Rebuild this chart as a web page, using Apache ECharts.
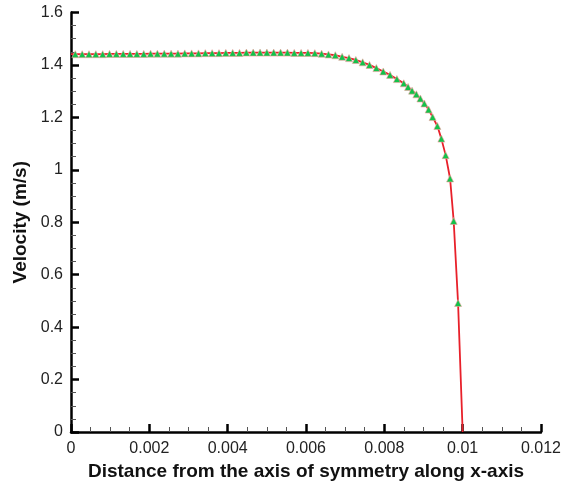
<!DOCTYPE html>
<html>
<head>
<meta charset="utf-8">
<script src="https://cdn.jsdelivr.net/npm/echarts@6/dist/echarts.min.js"></script>
<style>
  html, body { margin: 0; padding: 0; background: #fff; }
  #chart { width: 564px; height: 486px; }
</style>
</head>
<body>
<div id="chart"></div>
<script>
// Radial velocity profile: distance from the symmetry axis (m) vs velocity (m/s)
const distance = [
  0.00011, 0.000285, 0.000459, 0.000634, 0.000809, 0.000984, 0.001158, 0.001333,
  0.001508, 0.001682, 0.001857, 0.002032, 0.002206, 0.002381, 0.002556, 0.002731,
  0.002905, 0.00308, 0.003255, 0.003429, 0.003604, 0.003779, 0.003953, 0.004128,
  0.004303, 0.004478, 0.004652, 0.004827, 0.005002, 0.005176, 0.005351, 0.005526,
  0.0057, 0.005875, 0.00605, 0.006225, 0.006399, 0.006574, 0.006749, 0.006923,
  0.007098, 0.007273, 0.007447, 0.007622, 0.007797, 0.007972, 0.008146, 0.008321,
  0.008496, 0.008606, 0.008708, 0.008818, 0.00892, 0.009022, 0.009132, 0.009234,
  0.009355, 0.009456, 0.009566, 0.009679, 0.009771, 0.009883, 0.01
];
const velocity = [
  1.441, 1.441, 1.441, 1.441, 1.441, 1.442, 1.442, 1.442,
  1.442, 1.442, 1.442, 1.443, 1.443, 1.443, 1.443, 1.443,
  1.444, 1.444, 1.444, 1.445, 1.445, 1.445, 1.446, 1.446,
  1.446, 1.447, 1.447, 1.447, 1.447, 1.447, 1.447, 1.447,
  1.446, 1.446, 1.446, 1.445, 1.443, 1.440, 1.437, 1.431,
  1.426, 1.419, 1.410, 1.400, 1.388, 1.375, 1.362, 1.346,
  1.330, 1.316, 1.302, 1.288, 1.272, 1.253, 1.230, 1.201,
  1.167, 1.119, 1.056, 0.967, 0.805, 0.492, 0
];
// Profile starts on the axis of symmetry with the centre-line velocity
const axisStart = [0, 1.441];

const xTicks = ['0', '0.002', '0.004', '0.006', '0.008', '0.01', '0.012'];
const yTicks = ['0', '0.2', '0.4', '0.6', '0.8', '1', '1.2', '1.4', '1.6'];

const points = [{ value: axisStart, symbol: 'none' }];
distance.forEach((d, i) => {
  const item = { value: [d, velocity[i]] };
  if (i === distance.length - 1) item.symbol = 'none';
  points.push(item);
});

const FONT = '"Liberation Sans", Arial, sans-serif';

const axisCommon = {
  axisLine: { show: true, lineStyle: { color: '#000', width: 2.5 } },
  axisTick: { show: true, inside: true, length: 8, lineStyle: { color: '#000', width: 2.5 } },
  minorTick: { show: true, splitNumber: 4, length: 5, lineStyle: { color: '#555', width: 1 } },
  splitLine: { show: false },
  minorSplitLine: { show: false }
};

const chart = echarts.init(document.getElementById('chart'), null, { renderer: 'canvas' });
chart.setOption({
  animation: false,
  backgroundColor: '#fff',
  grid: { left: 71, right: 23, top: 12.5, bottom: 52.5, containLabel: false },
  xAxis: Object.assign({}, axisCommon, {
    type: 'value',
    min: 0, max: 0.012, interval: 0.002,
    name: 'Distance from the axis of symmetry along x-axis',
    nameLocation: 'middle',
    nameGap: 30,
    nameTextStyle: { fontFamily: FONT, fontWeight: 'bold', fontSize: 19, color: '#111' },
    axisLabel: {
      margin: 9,
      fontFamily: FONT, fontSize: 16, color: '#222',
      formatter: (v) => xTicks[Math.round(v / 0.002)]
    }
  }),
  yAxis: Object.assign({}, axisCommon, {
    type: 'value',
    min: 0, max: 1.6, interval: 0.2,
    name: 'Velocity (m/s)',
    nameLocation: 'middle',
    nameRotate: 90,
    nameGap: 34,
    nameTextStyle: { fontFamily: FONT, fontWeight: 'bold', fontSize: 19, color: '#111' },
    axisLabel: {
      margin: 8,
      fontFamily: FONT, fontSize: 16, color: '#222',
      formatter: (v) => yTicks[Math.round(v / 0.2)]
    }
  }),
  series: [{
    type: 'line',
    data: points,
    smooth: false,
    clip: false,
    lineStyle: { color: '#e8202a', width: 1.8 },
    symbol: 'triangle',
    symbolSize: 7,
    itemStyle: { color: '#12c24a', borderColor: '#f4a0a0', borderWidth: 0.6 },
    z: 3
  }]
});
</script>
</body>
</html>
